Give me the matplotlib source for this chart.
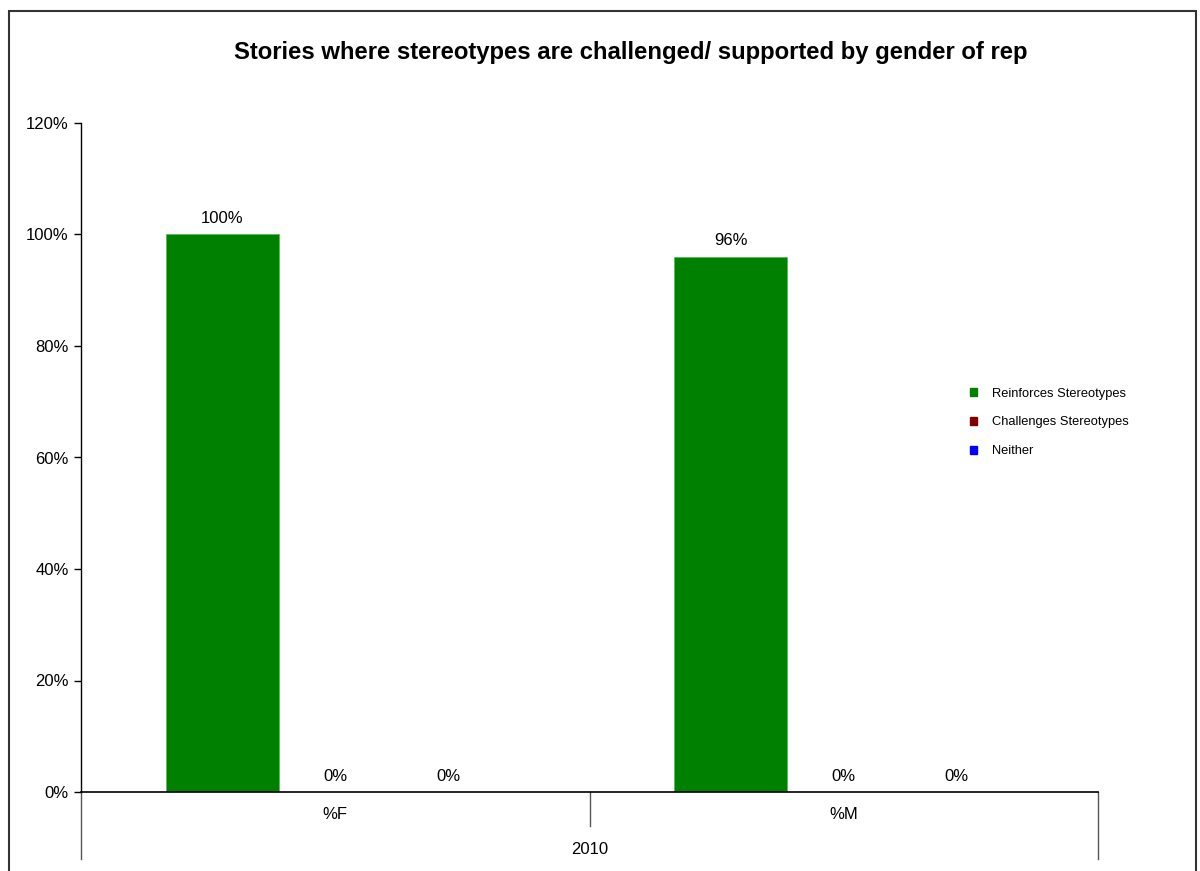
import matplotlib.pyplot as plt
from matplotlib.patches import Rectangle, Patch
from matplotlib.ticker import PercentFormatter

plt.rcParams['font.family'] = ['Liberation Sans', 'DejaVu Sans']

# Data
groups = ['%F', '%M']
year = '2010'
series = ['Reinforces Stereotypes', 'Challenges Stereotypes', 'Neither']
colors = ['#008000', '#800000', '#0000FF']
reinforces = [100, 96]
challenges = [0, 0]
neither = [0, 0]
values = [reinforces, challenges, neither]

W, H = 1200, 871
fig = plt.figure(figsize=(W / 100, H / 100), dpi=100)

# axes placed in pixel terms: left spine x=81, right end x=1098, 0% at y=792, 120% at y=123
x0, x1, y0, y1 = 81, 1098, 792, 123
ax = fig.add_axes([x0 / W, 1 - y0 / H, (x1 - x0) / W, (y0 - y1) / H])

# outer chart border
fig.patches.append(Rectangle((9 / W, -0.1), (1196 - 9) / W, (1 - 11 / H) + 0.1,
                             transform=fig.transFigure, fill=False,
                             edgecolor='#333333', linewidth=1.5))

bw = 113 / 509
offsets = [-bw, 0, bw]
for vals, name, col, off in zip(values, series, colors, offsets):
    xs = [i + off for i in range(len(groups))]
    ax.bar(xs, vals, width=bw, color=col, edgecolor='#5cb85c' if col == '#008000' else col,
           linewidth=0.6, label=name)
    for x, v in zip(xs, vals):
        ax.annotate(f'{v:.0f}%', (x, v), xytext=(0, 6), textcoords='offset points',
                    ha='center', va='bottom', fontsize=12)

ax.set_xlim(-0.5, len(groups) - 0.5)
ax.set_ylim(0, 120)
ax.set_yticks(range(0, 121, 20))
ax.yaxis.set_major_formatter(PercentFormatter(decimals=0))
ax.tick_params(axis='y', direction='out', length=5, width=1, labelsize=12, pad=4)
ax.set_xticks([])
for s in ['top', 'right']:
    ax.spines[s].set_visible(False)
ax.spines['left'].set_linewidth(1)
ax.spines['bottom'].set_linewidth(1.2)

# multi-level category axis below the plot
tr = ax.get_xaxis_transform()
px = 1 / (y0 - y1)
ax.plot([0.5, 0.5], [0, -34 * px], color='#555555', lw=1, transform=tr, clip_on=False)
for xe in [-0.5, len(groups) - 0.5]:
    ax.plot([xe, xe], [0, -67 * px], color='#555555', lw=1, transform=tr, clip_on=False)
for i, g in enumerate(groups):
    ax.text(i, -22 * px, g, transform=tr, ha='center', va='center', fontsize=12)
ax.text(0.5, -57 * px, year, transform=tr, ha='center', va='center', fontsize=12)

fig.text(631 / W, 1 - 53 / H, 'Stories where stereotypes are challenged/ supported by gender of rep',
         ha='center', va='center', fontsize=17.2, fontweight='bold')

handles = [Patch(facecolor=c, edgecolor=c) for c in colors]
fig.legend(handles, series, loc='upper left', bbox_to_anchor=(958 / W, 1 - 376 / H),
           frameon=False, fontsize=9.3, handlelength=0.6, handleheight=0.6,
           handletextpad=1.1, labelspacing=1.3)

fig.savefig('out.png', dpi=100)
